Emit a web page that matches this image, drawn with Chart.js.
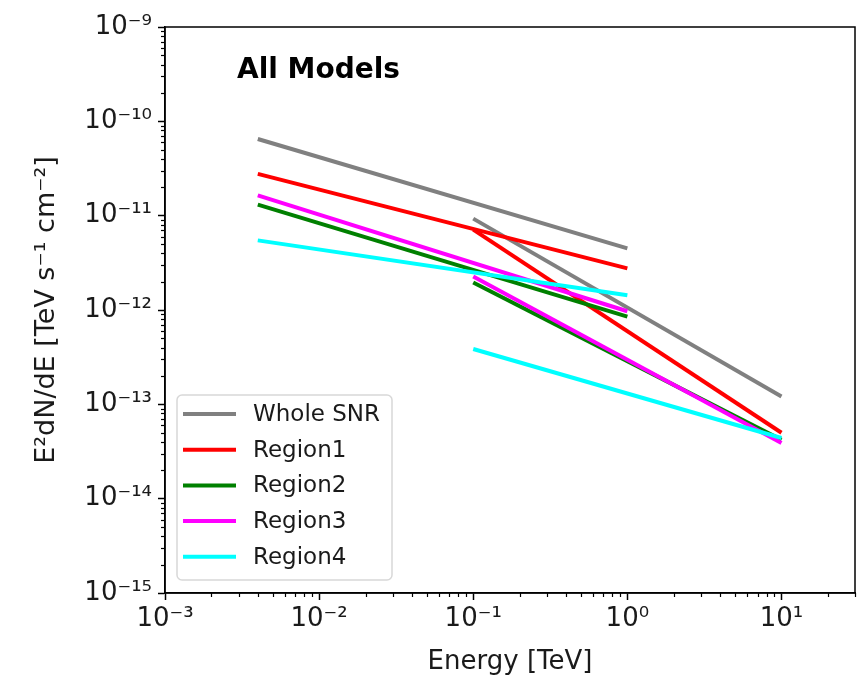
<!DOCTYPE html>
<html>
<head>
<meta charset="utf-8">
<script src="https://cdn.jsdelivr.net/npm/chart.js@4.4.0/dist/chart.umd.min.js"></script>
<style>
html, body { margin: 0; padding: 0; background: #fff; }
</style>
</head>
<body>
<canvas id="sedChart" width="867" height="675"></canvas>
<script>
// energy ranges of the two model fits (TeV)
const energyLow = [0.004, 1];
const energyHigh = [0.1, 10];

// E^2 dN/dE values at the ends of each range
const wholeLow = [6.5e-11, 4.5e-12];
const wholeHigh = [9.3e-12, 1.21e-13];
const region1Low = [2.77e-11, 2.76e-12];
const region1High = [7.1e-12, 5.0e-14];
const region2Low = [1.31e-11, 8.5e-13];
const region2High = [1.96e-12, 4.2e-14];
const region3Low = [1.64e-11, 9.7e-13];
const region3High = [2.27e-12, 3.9e-14];
const region4Low = [5.47e-12, 1.43e-12];
const region4High = [3.86e-13, 4.4e-14];

const seriesNames = ['Whole SNR', 'Region1', 'Region2', 'Region3', 'Region4'];
const seriesColors = ['#808080', '#ff0000', '#008000', '#ff00ff', '#00ffff'];
const lowValues = [wholeLow, region1Low, region2Low, region3Low, region4Low];
const highValues = [wholeHigh, region1High, region2High, region3High, region4High];

const xTickValues = [1e-3, 1e-2, 1e-1, 1, 10];
const yTickValues = [1e-15, 1e-14, 1e-13, 1e-12, 1e-11, 1e-10, 1e-9];

const supMap = {'-': '\u207B', '0': '\u2070', '1': '\u00B9', '2': '\u00B2', '3': '\u00B3',
    '4': '\u2074', '5': '\u2075', '6': '\u2076', '7': '\u2077', '8': '\u2078', '9': '\u2079'};
function powLabel(v) {
    const e = Math.round(Math.log10(v));
    return '10' + String(e).split('').map(c => supMap[c]).join('');
}

const FONT = "'DejaVu Sans', sans-serif";

const datasets = [];
seriesNames.forEach((name, i) => {
    [[energyLow, lowValues[i]], [energyHigh, highValues[i]]].forEach(([ex, ey]) => {
        datasets.push({
            label: name,
            data: ex.map((e, j) => ({x: e, y: ey[j]})),
            borderColor: seriesColors[i],
            backgroundColor: seriesColors[i],
            borderWidth: 4,
            pointRadius: 0,
            fill: false,
            order: 20 - datasets.length // matplotlib: later plotted on top
        });
    });
});

// minor ticks, frame, in-plot title and legend
const decorPlugin = {
    id: 'decor',
    afterDraw(chart) {
        const c = chart.ctx;
        const a = chart.chartArea;
        const xs = chart.scales.x, ys = chart.scales.y;
        c.save();
        c.strokeStyle = '#000';
        c.lineWidth = 1.2;
        // minor ticks
        for (let p = -3; p <= 1; p++) {
            for (let k = 2; k <= 9; k++) {
                const v = k * Math.pow(10, p);
                if (v > xs.max) continue;
                const px = Math.round(xs.getPixelForValue(v)) + 0.5;
                c.beginPath(); c.moveTo(px, a.bottom); c.lineTo(px, a.bottom + 4); c.stroke();
            }
        }
        for (let p = -15; p < -9; p++) {
            for (let k = 2; k <= 9; k++) {
                const v = k * Math.pow(10, p);
                const py = Math.round(ys.getPixelForValue(v)) + 0.5;
                c.beginPath(); c.moveTo(a.left, py); c.lineTo(a.left - 4, py); c.stroke();
            }
        }
        // frame
        c.lineWidth = 1.5;
        c.strokeRect(a.left, a.top, a.right - a.left, a.bottom - a.top);

        // title inside plot
        c.fillStyle = '#000';
        c.font = 'bold 28px ' + FONT;
        c.textBaseline = 'alphabetic';
        c.fillText('All Models', a.left + 72, a.top + 51);

        // legend box
        const bx = a.left + 12, bw = 215, bh = 185;
        const by = a.bottom - 13 - bh;
        c.fillStyle = 'rgba(255,255,255,0.8)';
        c.strokeStyle = '#d8d8d8';
        c.lineWidth = 1.5;
        c.beginPath();
        c.roundRect(bx, by, bw, bh, 5);
        c.fill(); c.stroke();
        c.font = '23px ' + FONT;
        c.textBaseline = 'middle';
        seriesNames.forEach((name, i) => {
            const cy = by + 19 + i * 35.7;
            c.strokeStyle = seriesColors[i];
            c.lineWidth = 4;
            c.beginPath(); c.moveTo(bx + 6, cy); c.lineTo(bx + 59, cy); c.stroke();
            c.fillStyle = '#1a1a1a';
            c.fillText(name, bx + 76, cy + 1);
        });
        c.restore();
    }
};

new Chart(document.getElementById('sedChart'), {
    type: 'line',
    data: {datasets: datasets},
    options: {
        responsive: false,
        animation: false,
        layout: {padding: {left: 0, right: 12, top: 27, bottom: 0}},
        plugins: {legend: {display: false}, tooltip: {enabled: false}},
        scales: {
            x: {
                type: 'logarithmic',
                min: 1e-3,
                max: 30,
                afterBuildTicks: s => { s.ticks = xTickValues.map(v => ({value: v})); },
                afterFit: s => { s.height = 82; },
                grid: {drawOnChartArea: false, tickLength: 7, tickColor: '#000', tickWidth: 1.5},
                border: {color: '#000', width: 1.5},
                ticks: {
                    autoSkip: false, maxRotation: 0, padding: 4, color: '#1a1a1a',
                    font: {family: FONT, size: 26},
                    callback: v => powLabel(v)
                },
                title: {display: true, text: 'Energy [TeV]', color: '#1a1a1a',
                    font: {family: FONT, size: 26}, padding: {top: 0, bottom: -3}}
            },
            y: {
                type: 'logarithmic',
                min: 1e-15,
                max: 1e-9,
                afterBuildTicks: s => { s.ticks = yTickValues.map(v => ({value: v})); },
                afterFit: s => { s.width = 165; },
                grid: {drawOnChartArea: false, tickLength: 7, tickColor: '#000', tickWidth: 1.5},
                border: {color: '#000', width: 1.5},
                ticks: {
                    autoSkip: false, padding: 6, color: '#1a1a1a',
                    font: {family: FONT, size: 26},
                    callback: v => powLabel(v)
                },
                title: {display: true, text: 'E\u00B2dN/dE [TeV s\u207B\u00B9 cm\u207B\u00B2]', color: '#1a1a1a',
                    font: {family: FONT, size: 27}, padding: {top: 31, bottom: 0}}
            }
        }
    },
    plugins: [decorPlugin]
});
</script>
</body>
</html>
